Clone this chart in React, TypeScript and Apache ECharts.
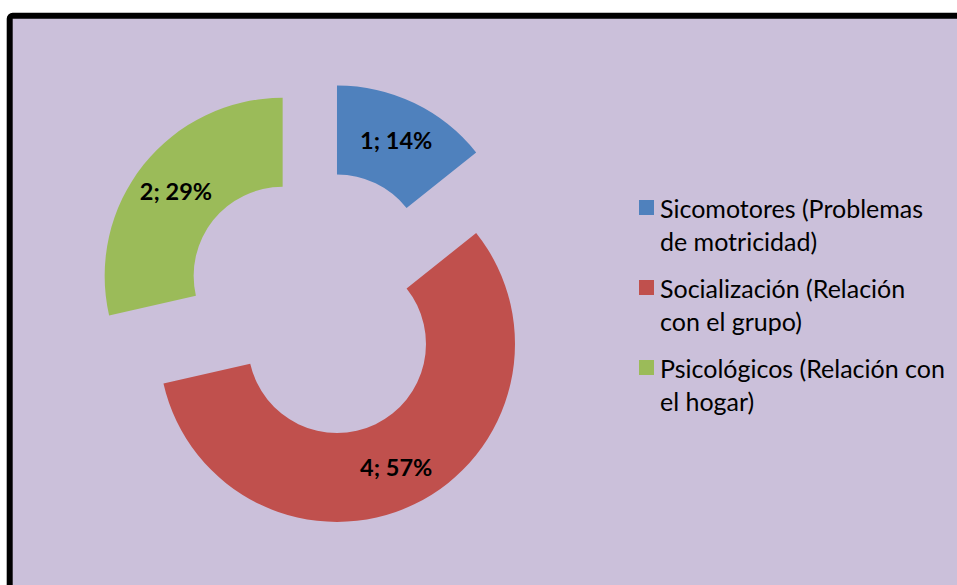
import React, { useEffect, useRef } from 'react';
import * as echarts from 'echarts';

const categories = [
  'Sicomotores (Problemas\nde motricidad)',
  'Socialización (Relación\ncon el grupo)',
  'Psicológicos (Relación con\nel hogar)',
];
const values = [1, 4, 2];
const colors = ['#4F81BD', '#C0504D', '#9BBB59'];

const FONT = 'Lato, "Open Sans", sans-serif';

export default function App() {
  const ref = useRef<HTMLDivElement>(null);
  useEffect(() => {
    const chart = echarts.init(ref.current!, null, { renderer: 'svg' });
    const total = values.reduce((a, b) => a + b, 0);
    const cx = 317.6, cy = 303.7, explode = 44.7, R = 178, r0 = 89;
    let acc = 0;
    const series = values.map((v, i) => {
      const start = (acc / total) * 360;
      const mid = ((acc + v / 2) / total) * 360;
      acc += v;
      const rad = (mid * Math.PI) / 180;
      return {
        type: 'pie',
        radius: [r0, R],
        center: [cx + explode * Math.sin(rad), cy - explode * Math.cos(rad)],
        startAngle: 90 - start,
        clockwise: true,
        percentPrecision: 0,
        silent: true,
        z: 5,
        emphasis: { disabled: true },
        label: {
          show: true,
          position: 'inside',
          formatter: '{c}; {d}%',
          fontFamily: FONT,
          fontWeight: 'bold',
          fontSize: 23.5,
          color: '#000',
          textBorderWidth: 0,
        },
        labelLine: { show: false },
        data: [
          { value: v, name: categories[i], itemStyle: { color: colors[i] } },
          {
            value: total - v,
            name: '_rest',
            itemStyle: { color: 'rgba(0,0,0,0)' },
            label: { show: false },
          },
        ],
      };
    });

    const legendItems: any[] = [];
    categories.forEach((name, i) => {
      legendItems.push({
        type: 'rect',
        shape: { x: 639, y: 200 + 80 * i, width: 15, height: 15 },
        style: { fill: colors[i] },
        z: 10,
      });
      legendItems.push({
        type: 'text',
        x: 660,
        y: 191 + 80 * i,
        style: {
          text: name,
          fontFamily: FONT,
          fontSize: 25,
          lineHeight: 33,
          fill: '#000',
          verticalAlign: 'top',
          align: 'left',
        },
        z: 10,
      });
    });

    chart.setOption({
      animation: false,
      backgroundColor: '#ffffff',
      graphic: [
        {
          type: 'rect',
          shape: { x: 9.7, y: 15.7, width: 1000, height: 700, r: 3 },
          style: { fill: '#CBC0DA', stroke: '#000000', lineWidth: 6 },
          z: 0,
        },
        ...legendItems,
      ],
      series,
    });
    return () => chart.dispose();
  }, []);
  return (
    <div
      ref={ref}
      style={{ position: 'absolute', left: 0, top: 0, width: 957, height: 585 }}
    />
  );
}
